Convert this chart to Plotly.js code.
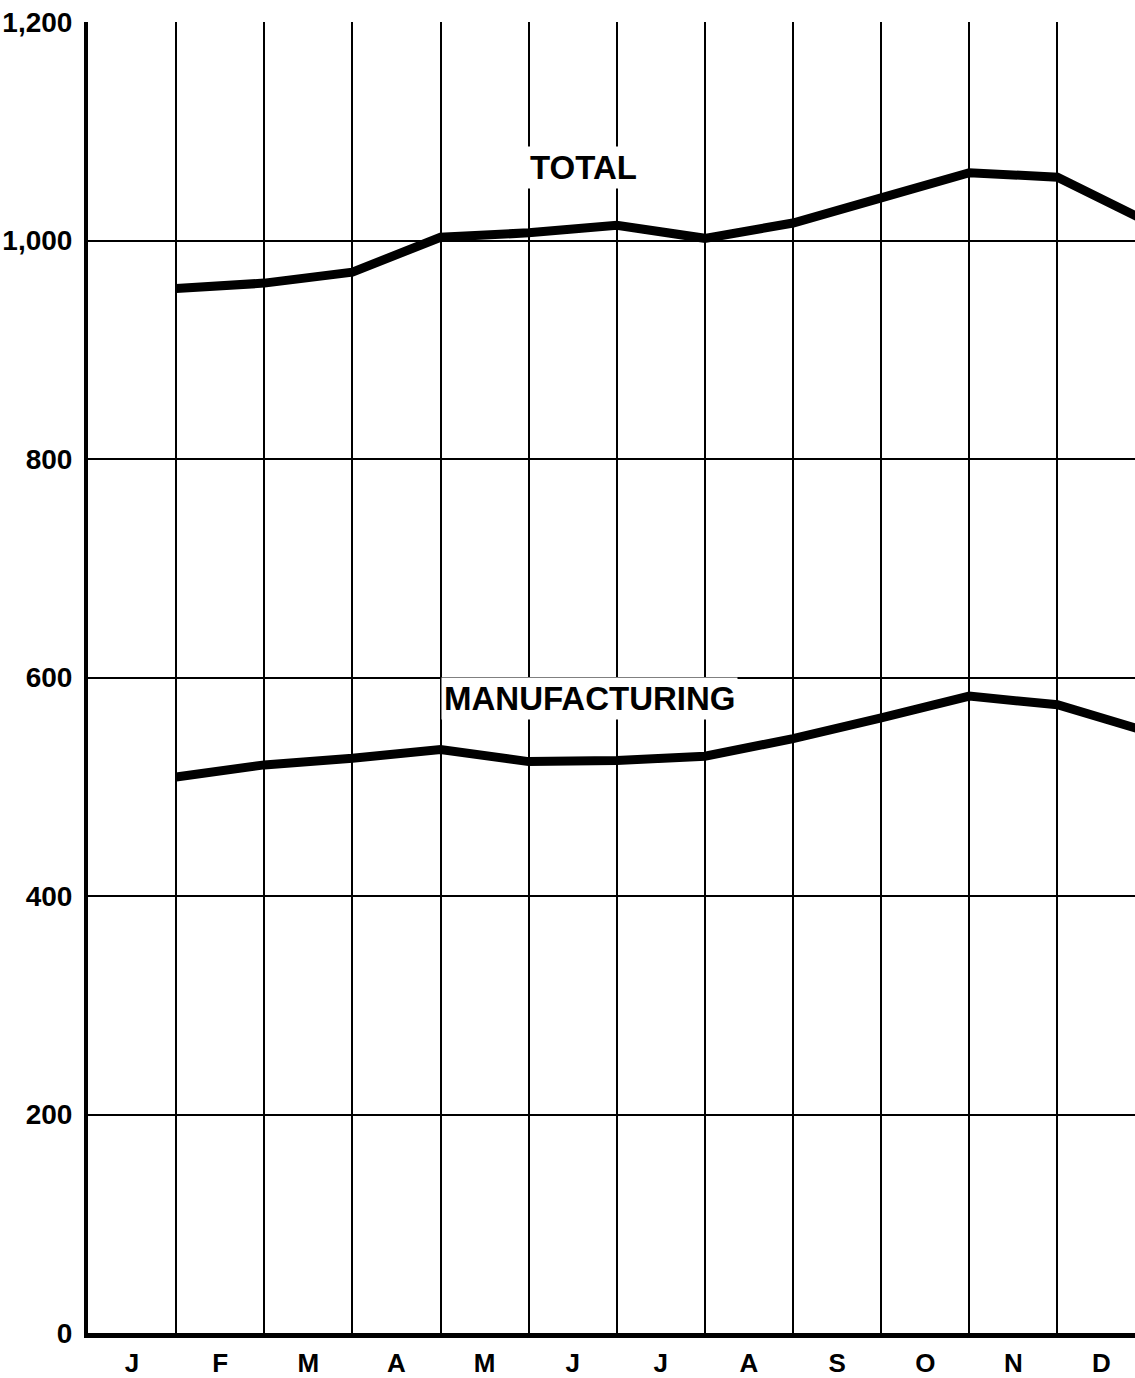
<!DOCTYPE html>
<html>
<head>
<meta charset="utf-8">
<script src="https://cdn.plot.ly/plotly-3.0.1.min.js"></script>
<style>
  html, body { margin: 0; padding: 0; background: #fff; }
  #chart { width: 1135px; height: 1378px; }
</style>
</head>
<body>
<div id="chart"></div>
<script>
// Month labels (centered between gridlines)
const months = ["J", "F", "M", "A", "M", "J", "J", "A", "S", "O", "N", "D"];
const monthPos = [0.5, 1.5, 2.5, 3.5, 4.5, 5.5, 6.5, 7.5, 8.5, 9.5, 10.5, 11.5];

// Data points sit on the month boundaries (gridlines)
const pointX = [1, 2, 3, 4, 5, 6, 7, 8, 9, 10, 11, 12];
const totalValues = [956, 961, 971, 1003, 1007, 1014, 1002, 1016, 1039, 1062, 1058, 1018];
const manufacturingValues = [509, 520, 526, 534, 523, 524, 528, 544, 563, 583, 575, 551];

// Y axis ticks
const yTickVals = [0, 200, 400, 600, 800, 1000, 1200];
const yTickText = ["0", "200", "400", "600", "800", "1,000", "1,200"];

const lineStyle = { color: "#000", width: 9, shape: "linear" };

const traces = [
  { x: pointX, y: totalValues, type: "scatter", mode: "lines", line: lineStyle, name: "TOTAL", hoverinfo: "skip" },
  { x: pointX, y: manufacturingValues, type: "scatter", mode: "lines", line: lineStyle, name: "MANUFACTURING", hoverinfo: "skip" }
];

const tickFont = { family: "Liberation Sans, Arial, sans-serif", size: 28, color: "#000", weight: "bold" };
const monthFont = { family: "Liberation Sans, Arial, sans-serif", size: 26, color: "#000", weight: "bold" };
const labelFont = { family: "Liberation Sans, Arial, sans-serif", size: 33, color: "#000", weight: "bold" };

const layout = {
  width: 1135,
  height: 1378,
  margin: { l: 88, r: 0, t: 22, b: 45, pad: 0 },
  paper_bgcolor: "#fff",
  plot_bgcolor: "#fff",
  showlegend: false,
  xaxis: {
    range: [0, 11.88],
    tickmode: "array",
    tickvals: monthPos,
    ticktext: months,
    ticks: "",
    showgrid: false,
    zeroline: false,
    showline: true,
    linecolor: "#000",
    linewidth: 5,
    tickfont: monthFont,
    ticklabelstandoff: 3,
    minor: { tick0: 0, dtick: 1, showgrid: true, gridcolor: "#000", gridwidth: 2, ticks: "" },
    fixedrange: true
  },
  yaxis: {
    range: [0, 1200],
    tickmode: "array",
    tickvals: yTickVals,
    ticktext: yTickText,
    ticks: "",
    showgrid: true,
    gridcolor: "#000",
    gridwidth: 2,
    zeroline: false,
    showline: true,
    linecolor: "#000",
    linewidth: 4,
    tickfont: tickFont,
    ticklabelstandoff: 6,
    fixedrange: true
  },
  annotations: [
    { text: "TOTAL", x: 5.62, y: 1067, xref: "x", yref: "y", showarrow: false,
      font: labelFont, bgcolor: "#fff", xanchor: "center", yanchor: "middle", borderpad: 2 },
    { text: "MANUFACTURING", x: 5.69, y: 581, xref: "x", yref: "y", showarrow: false,
      font: labelFont, bgcolor: "#fff", xanchor: "center", yanchor: "middle", borderpad: 2 }
  ]
};

Plotly.newPlot("chart", traces, layout, { staticPlot: true, displayModeBar: false });
</script>
</body>
</html>
